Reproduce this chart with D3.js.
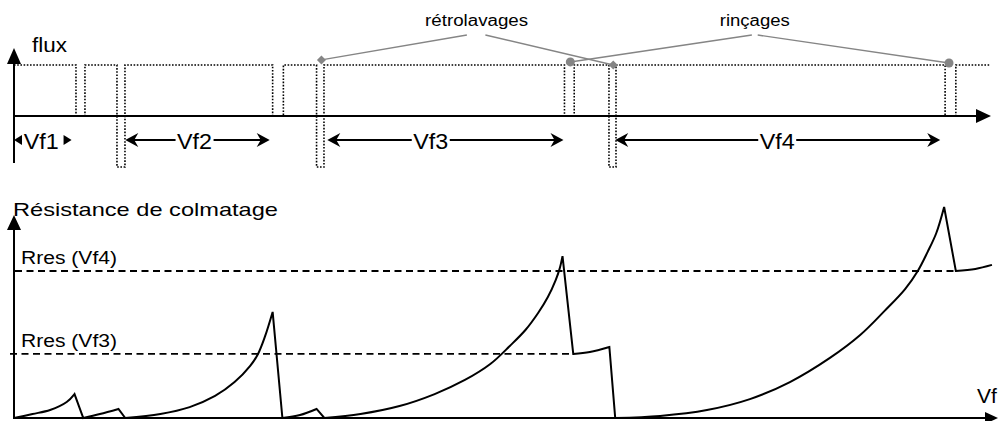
<!DOCTYPE html>
<html>
<head>
<meta charset="utf-8">
<script src="https://cdn.jsdelivr.net/npm/d3@7"></script>
<style>
  body { margin: 0; background: #fff; }
  text { font-family: "Liberation Sans", Arial, sans-serif; fill: #000; }
</style>
</head>
<body>
<div id="chart"></div>
<script>
// events along the filtered volume axis (Vf, 0..100)
const rinseStart = [6.35, 26.5, 56.4, 95.4];
const rinseEnd = [7.27, 27.6, 57.4, 96.5];
const backwashStart = [10.55, 31.0, 60.96];
const backwashEnd = [11.37, 31.76, 61.68];

// flux levels
const fluxFiltration = 1;
const fluxRinse = 0;
const fluxBackwash = -1;

// filtered volume spans
const spanNames = ["Vf1", "Vf2", "Vf3", "Vf4"];
const spanStart = [0, 11.4, 32.1, 61.6];
const spanEnd = [5.9, 26.2, 56.3, 94.9];
const spanLabelAt = [2.8, 18.5, 42.7, 78.2];

// callouts
const calloutNames = ["rétrolavages", "rinçages"];
const calloutAt = [47.4, 75.9];
const calloutLeads = [[46.4, 48.3], [75.6, 76.2]];
const backwashMarks = [[31.5, 1.10], [61.4, 1.0]];
const rinseMarks = [[57.0, 1.06], [95.8, 1.04]];

// clogging resistance, one array per filtration cycle [Vf, R]
const seg1 = [[0, 0], [1.9, 1.9], [3.7, 3.8], [5.4, 7.6], [6.2, 11.4]];
const seg2 = [[7.1, 0], [8.8, 1.9], [10.7, 4.3]];
const seg3 = [[11.4, 0], [15.0, 1.9], [18.0, 5.2], [20.6, 10.5], [22.6, 17.1], [24.2, 24.8], [25.0, 30.5], [25.7, 38.6], [26.5, 50.5]];
const seg4 = [[27.5, 0], [29.3, 1.4], [31.0, 4.3]];
const seg5 = [[31.8, 0], [35.5, 1.9], [39.5, 5.7], [43.1, 11.4], [46.2, 18.1], [48.8, 25.7], [50.8, 34.3], [52.4, 41.9], [53.7, 50], [54.7, 57.6], [55.5, 65.7], [55.9, 71.0], [56.2, 77.1]];
const seg6 = [[57.3, 30.5], [59.0, 31.4], [61.0, 33.8]];
const seg7 = [[61.6, 0], [66.2, 1.0], [71.0, 3.8], [75.4, 9.0], [79.5, 17.1], [83.6, 28.6], [86.7, 39.5], [89.2, 51.0], [91.3, 61.4], [92.6, 70], [93.6, 79.0], [94.5, 88.1], [95.3, 100.5]];
const seg8 = [[96.5, 70], [98.5, 71], [100.2, 72.9]];
const segments = [seg1, seg2, seg3, seg4, seg5, seg6, seg7, seg8];

// residual resistance levels
const rresNames = ["Rres (Vf3)", "Rres (Vf4)"];
const rresValues = [30.5, 70];
const rresEndAt = [57.3, 96.5];

const width = 1001, height = 421;

const svg = d3.select('#chart')
  .append('svg')
  .attr('width', width)
  .attr('height', height);

const x = d3.scaleLinear().domain([0, 100]).range([14, 990]);
const yFlux = d3.scaleLinear().domain([-1, 1]).range([167, 65]);
const yRes = d3.scaleLinear().domain([0, 100]).range([418, 208]);

// ---------- top panel: flux ----------
// build step path from the events
let events = [];
rinseStart.forEach((s, i) => events.push({ s: s, e: rinseEnd[i], v: fluxRinse }));
backwashStart.forEach((s, i) => events.push({ s: s, e: backwashEnd[i], v: fluxBackwash }));
events.sort((a, b) => a.s - b.s);

let fluxPts = [[0, fluxFiltration]];
events.forEach(ev => {
  fluxPts.push([ev.s, fluxFiltration], [ev.s, ev.v], [ev.e, ev.v], [ev.e, fluxFiltration]);
});
fluxPts.push([100, fluxFiltration]);

svg.append('path')
  .attr('d', d3.line().x(d => x(d[0])).y(d => yFlux(d[1]))(fluxPts))
  .attr('fill', 'none')
  .attr('stroke', '#000')
  .attr('stroke-width', 1.6)
  .attr('stroke-dasharray', '1.6,1.6');

// axes
const y0 = yFlux(0);
svg.append('line')
  .attr('x1', x(0)).attr('x2', 978)
  .attr('y1', y0).attr('y2', y0)
  .attr('stroke', '#000').attr('stroke-width', 2);
svg.append('path')
  .attr('d', `M991,${y0} L976,${y0 - 7} L976,${y0 + 7} Z`)
  .attr('fill', '#000');
svg.append('line')
  .attr('x1', x(0)).attr('x2', x(0))
  .attr('y1', 62).attr('y2', 163)
  .attr('stroke', '#000').attr('stroke-width', 2);
svg.append('path')
  .attr('d', `M${x(0)},48 L${x(0) - 7},64 L${x(0) + 7},64 Z`)
  .attr('fill', '#000');
svg.append('text')
  .attr('x', 32).attr('y', 52)
  .attr('font-size', 21)
  .attr('textLength', 35).attr('lengthAdjust', 'spacingAndGlyphs')
  .text('flux');

// Vf spans
const spanY = 140;
const headPath = 'M0,0 L-13,-7 L-9,0 L-13,7 Z';
spanNames.forEach((name, i) => {
  const a = x(spanStart[i]), b = x(spanEnd[i]), c = x(spanLabelAt[i]);
  svg.append('text')
    .attr('x', c).attr('y', 149)
    .attr('text-anchor', 'middle')
    .attr('font-size', 22)
    .attr('textLength', 35).attr('lengthAdjust', 'spacingAndGlyphs')
    .text(name);
  if (b - a < 80) {
    // short span: only small solid heads
    svg.append('path').attr('d', `M${a},${spanY} L${a + 8},${spanY - 5} L${a + 8},${spanY + 5} Z`).attr('fill', '#000');
    svg.append('path').attr('d', `M${b},${spanY} L${b - 8},${spanY - 5} L${b - 8},${spanY + 5} Z`).attr('fill', '#000');
  } else {
    const gap = 19;
    svg.append('line').attr('x1', a + 4).attr('x2', c - gap).attr('y1', spanY).attr('y2', spanY)
      .attr('stroke', '#000').attr('stroke-width', 2);
    svg.append('line').attr('x1', c + gap).attr('x2', b - 4).attr('y1', spanY).attr('y2', spanY)
      .attr('stroke', '#000').attr('stroke-width', 2);
    svg.append('path').attr('d', headPath).attr('transform', `translate(${a},${spanY}) rotate(180)`).attr('fill', '#000');
    svg.append('path').attr('d', headPath).attr('transform', `translate(${b},${spanY})`).attr('fill', '#000');
  }
});

// callouts
const calloutWidths = [103, 70];
calloutNames.forEach((name, i) => {
  svg.append('text')
    .attr('x', x(calloutAt[i])).attr('y', 26)
    .attr('text-anchor', 'middle')
    .attr('font-size', 16)
    .attr('textLength', calloutWidths[i]).attr('lengthAdjust', 'spacingAndGlyphs')
    .text(name);
});
const leadColor = '#858585';
backwashMarks.forEach((m, j) => {
  svg.append('line')
    .attr('x1', x(calloutLeads[0][j])).attr('y1', 35)
    .attr('x2', x(m[0])).attr('y2', yFlux(m[1]))
    .attr('stroke', leadColor).attr('stroke-width', 1.4);
});
rinseMarks.forEach((m, j) => {
  svg.append('line')
    .attr('x1', x(calloutLeads[1][j])).attr('y1', 35)
    .attr('x2', x(m[0])).attr('y2', yFlux(m[1]))
    .attr('stroke', leadColor).attr('stroke-width', 1.4);
});
backwashMarks.forEach(m => {
  svg.append('path')
    .attr('d', 'M0,-4.5 L4.5,0 L0,4.5 L-4.5,0 Z')
    .attr('transform', `translate(${x(m[0])},${yFlux(m[1])})`)
    .attr('fill', leadColor);
});
rinseMarks.forEach(m => {
  svg.append('circle')
    .attr('cx', x(m[0])).attr('cy', yFlux(m[1])).attr('r', 4.5)
    .attr('fill', leadColor);
});

// ---------- bottom panel: resistance ----------
rresValues.forEach((v, i) => {
  svg.append('line')
    .attr('x1', i === 0 ? 10 : 15).attr('x2', x(rresEndAt[i]))
    .attr('y1', yRes(v)).attr('y2', yRes(v))
    .attr('stroke', '#000').attr('stroke-width', 1.8)
    .attr('stroke-dasharray', '7,4.5');
  svg.append('text')
    .attr('x', 21).attr('y', yRes(v) - 7)
    .attr('font-size', 18)
    .attr('textLength', 96).attr('lengthAdjust', 'spacingAndGlyphs')
    .text(rresNames[i]);
});

const segLine = d3.line()
  .x(d => x(d[0])).y(d => yRes(d[1]))
  .curve(d3.curveCatmullRom.alpha(0.5));
const curveD = segments.map((s, i) => {
  const d = segLine(s);
  return i === 0 ? d : 'L' + d.slice(1);
}).join('');
svg.append('path')
  .attr('d', curveD)
  .attr('fill', 'none')
  .attr('stroke', '#000')
  .attr('stroke-width', 2)
  .attr('stroke-linejoin', 'miter');

// axes
const r0 = yRes(0);
svg.append('line')
  .attr('x1', x(0)).attr('x2', 986)
  .attr('y1', r0).attr('y2', r0)
  .attr('stroke', '#000').attr('stroke-width', 2);
svg.append('path')
  .attr('d', `M998,${r0} L985,${r0 - 6} L985,${r0 + 6} Z`)
  .attr('fill', '#000');
svg.append('line')
  .attr('x1', x(0)).attr('x2', x(0))
  .attr('y1', 228).attr('y2', r0 + 1)
  .attr('stroke', '#000').attr('stroke-width', 2);
svg.append('path')
  .attr('d', `M${x(0)},215 L${x(0) - 7},230 L${x(0) + 7},230 Z`)
  .attr('fill', '#000');
svg.append('text')
  .attr('x', 13).attr('y', 216)
  .attr('font-size', 19)
  .attr('textLength', 265).attr('lengthAdjust', 'spacingAndGlyphs')
  .text('Résistance de colmatage');
svg.append('text')
  .attr('x', 977).attr('y', 403)
  .attr('font-size', 21)
  .text('Vf');
</script>
</body>
</html>
